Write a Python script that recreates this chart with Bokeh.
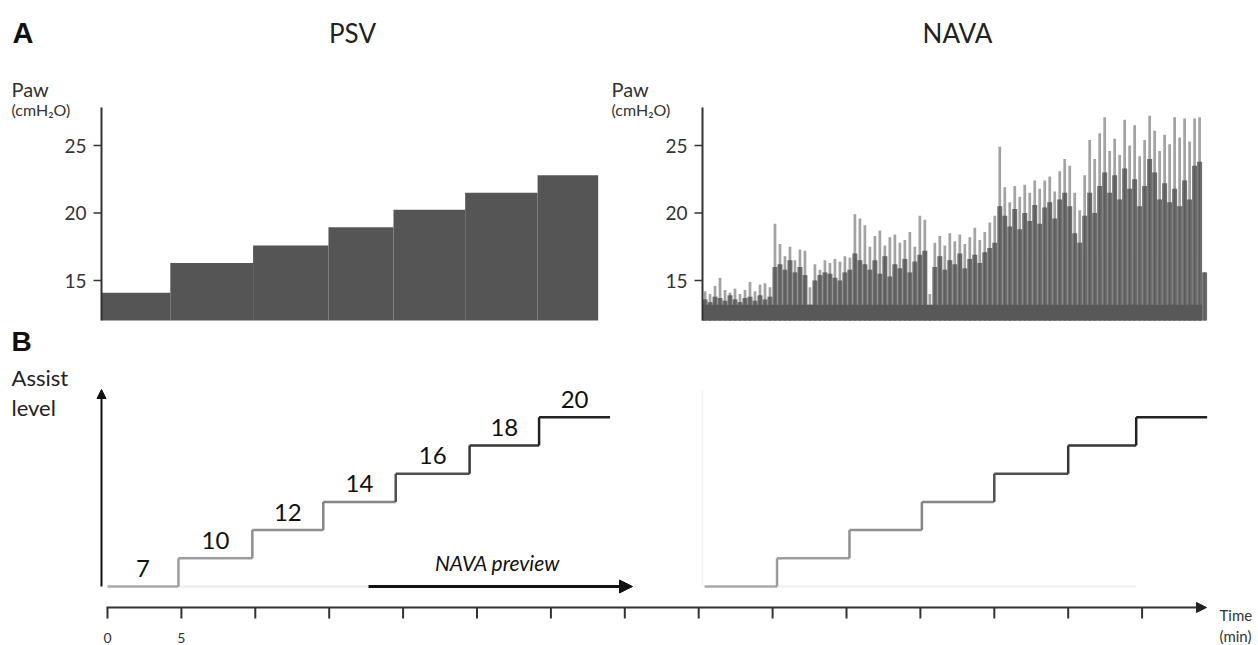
import numpy as np
from bokeh.plotting import figure
from bokeh.models import Range1d, Arrow, NormalHead, ColumnDataSource
from bokeh.core.properties import value
from bokeh.embed import file_html
from bokeh.resources import INLINE

# ---------------- data ----------------
paw_ticks = [15, 20, 25]
paw_tick_labels = ["15", "20", "25"]

# PSV airway pressure plateaus (cmH2O) between step edges (min)
psv_paw_edges = [-0.4, 4.25, 9.85, 14.95, 19.35, 24.2, 29.1, 33.2]
psv_paw = [14.1, 16.3, 17.6, 18.95, 20.25, 21.5, 22.8]

# NAVA airway pressure trace (cmH2O), sampled every nava_dt minutes from nava_t0
nava_t0 = 40.26
nava_dt = 0.338
nava_peak = [14.2, 14.0, 14.6, 15.2, 14.3, 14.1, 14.4, 14.0, 14.3, 14.9, 14.2, 14.7, 14.8, 14.5, 19.2,
             17.7, 16.8, 17.5, 16.5, 17.3, 17.2,
             14.5,
             16.2, 15.8, 16.5, 16.3, 16.6, 16.4, 16.8, 16.7,
             19.9, 19.6,
             19.1, 17.5, 18.3, 18.7, 17.6, 18.2, 18.4, 17.8, 18.0, 18.6, 17.5, 19.8, 19.5,
             14.0,
             17.8, 18.3, 17.6, 18.5, 17.9, 18.4, 17.7, 18.2, 18.9, 18.0, 18.6, 19.3, 19.8,
             24.9,
             21.9, 20.8, 22.0, 21.2, 22.1, 21.5, 22.4, 21.8, 22.4, 22.7, 21.6, 23.1, 24.0,
             23.5, 21.5, 20.2, 22.8, 25.4, 24.0, 25.9, 27.1, 24.6, 25.5, 24.3, 26.9, 25.0, 26.5,
             24.2, 25.4, 27.2, 26.1, 24.6, 25.8, 25.1, 27.1, 25.6, 27.0, 25.3, 27.0, 27.1,
             15.6]
nava_body = [13.6, 13.4, 13.8, 13.7, 13.5, 13.9, 13.6, 13.4, 13.7, 13.8, 13.5, 13.9, 13.6, 13.8, 16.0,
             16.2, 15.8, 16.5, 15.6, 16.0, 15.4,
             13.2,
             15.0, 15.4, 15.6, 15.5, 15.2, 15.0, 15.6, 15.8,
             17.0, 16.5,
             16.2, 15.8, 16.5, 15.5, 16.8, 15.3, 16.2, 15.9, 16.6, 15.6, 16.4, 16.9, 17.2,
             13.0,
             16.0, 16.8, 15.8, 16.5, 16.2, 17.0, 15.9, 16.6, 16.9, 16.3, 17.1, 17.4, 17.8,
             20.5,
             19.8, 19.0, 20.3, 18.8, 20.0, 19.4, 20.6, 19.2, 20.4, 20.8, 19.6, 21.0, 21.5,
             20.5, 18.5, 17.8, 19.8, 21.5, 20.0, 22.0, 23.0, 21.5, 22.8, 21.0, 23.3, 21.8, 22.5,
             20.5, 22.0, 24.0, 23.0, 21.0, 22.2, 20.8, 21.8, 20.5, 22.4, 21.0, 23.5, 23.8,
             15.6]
nava_floor = 13.2  # dark baseline band of the NAVA trace

# Assist levels (step index 0..6) with their PSV labels
assist_step = [0, 1, 2, 3, 4, 5, 6]
assist_labels = ["7", "10", "12", "14", "16", "18", "20"]
psv_step_edges = [0.0, 4.8, 9.8, 14.6, 19.5, 24.5, 29.2, 34.0]
nava_step_edges = [40.4, 45.3, 50.2, 55.1, 60.0, 65.0, 69.6, 74.4]
step_colors = ["#a8a8a8", "#9c9c9c", "#909090", "#858585", "#4f4f4f", "#363636", "#222222"]

time_ticks = [0, 5, 10, 15, 20, 25, 30, 35, 40, 45, 50, 55, 60, 65, 70]
time_tick_labels = ["0", "5"]

# ---------------- layout helpers (picture pixels -> data units) ----------------
def tx(X):
    return (X - 107) / 14.78

def ly(Y):
    return (586 - Y) / 28.2

def py(Y):
    return 15 + (280 - Y) / 13.5

FONT = value("Lato")
W, H = 1258, 645

p = figure(width=W, height=H, output_backend="svg", toolbar_location=None,
           x_axis_type=None, y_axis_type=None,
           x_range=Range1d(tx(0), tx(W)), y_range=Range1d(ly(H), ly(0)),
           min_border=0, outline_line_color=None, background_fill_color="white")
p.extra_y_ranges = {"paw": Range1d(py(H), py(0))}
p.xgrid.visible = False
p.ygrid.visible = False

paw_floor = py(320)
paw_top = py(107)

# ---------------- panel A ----------------
p.quad(left=psv_paw_edges[:-1], right=psv_paw_edges[1:], bottom=paw_floor, top=psv_paw,
       y_range_name="paw", fill_color="#555555", line_color=None)

n = len(nava_peak)
nx = [nava_t0 + nava_dt * (i + 0.5) for i in range(n)]
src = ColumnDataSource(dict(x=nx, peak=nava_peak, body=nava_body))
p.vbar(x="x", width=nava_dt * 0.55, top="peak", bottom=paw_floor, source=src,
       y_range_name="paw", fill_color="#a3a3a3", line_color=None)
p.vbar(x="x", width=nava_dt * 1.0, top="body", bottom=paw_floor, source=src,
       y_range_name="paw", fill_color="#6f6f6f", line_color=None)
p.vbar(x="x", width=nava_dt * 0.3, top="body", bottom=paw_floor, source=src,
       y_range_name="paw", fill_color="#5c5c5c", line_color=None)
p.quad(left=[nava_t0], right=[nava_t0 + nava_dt * (n - 1)], bottom=[paw_floor], top=[nava_floor],
       y_range_name="paw", fill_color="#585858", line_color=None)

for ax_t in (tx(101), tx(702)):
    p.segment(x0=[ax_t], y0=[paw_floor], x1=[ax_t], y1=[paw_top], y_range_name="paw",
              line_color="#333333", line_width=2)
    p.segment(x0=[ax_t - 8 / 14.78] * 3, y0=paw_ticks, x1=[ax_t] * 3, y1=paw_ticks,
              y_range_name="paw", line_color="#333333", line_width=1.5)
    p.text(x=[ax_t - 15 / 14.78] * 3, y=paw_ticks, text=paw_tick_labels, y_range_name="paw",
           text_font=FONT, text_font_size="19px", text_align="right", text_baseline="middle",
           text_color="#333333")

# headings
p.text(x=[tx(12)], y=[ly(32)], text=["A"], text_font=value("Liberation Sans"),
       text_font_style="bold", text_font_size="29px", text_align="left", text_baseline="middle",
       text_color="#111111")
p.text(x=[tx(352), tx(957)], y=[ly(32), ly(32)], text=["PSV", "NAVA"], text_font=FONT,
       text_font_size="26px", text_align="center", text_baseline="middle", text_color="#222222")
p.text(x=[tx(11), tx(611)], y=[ly(88), ly(88)], text=["Paw", "Paw"], text_font=FONT,
       text_font_size="20px", text_align="left", text_baseline="middle", text_color="#333333")
p.text(x=[tx(11), tx(611)], y=[ly(109), ly(109)], text=["(cmH\u2082O)", "(cmH\u2082O)"], text_font=FONT,
       text_font_size="16px", text_align="left", text_baseline="middle", text_color="#333333")

# ---------------- panel B ----------------
p.text(x=[tx(11)], y=[ly(341)], text=["B"], text_font=value("Liberation Sans"),
       text_font_style="bold", text_font_size="28px", text_align="left", text_baseline="middle",
       text_color="#111111")
p.text(x=[tx(11), tx(11)], y=[ly(377), ly(407)], text=["Assist", "level"], text_font=FONT,
       text_font_size="22px", text_align="left", text_baseline="middle", text_color="#222222")

# faint guide lines
p.segment(x0=[psv_step_edges[1]], y0=[0], x1=[tx(368)], y1=[0], line_color="#ececec", line_width=2)
p.segment(x0=[nava_step_edges[1]], y0=[0], x1=[nava_step_edges[-2]], y1=[0], line_color="#f0f0f0", line_width=2)
p.segment(x0=[tx(702)], y0=[0], x1=[tx(702)], y1=[ly(390)], line_color="#f2f2f2", line_width=1.5)

for edges in (psv_step_edges, nava_step_edges):
    p.segment(x0=edges[:-1], x1=edges[1:], y0=assist_step, y1=assist_step,
              line_color=step_colors, line_width=2.5)
    p.segment(x0=edges[1:-1], x1=edges[1:-1], y0=assist_step[:-1], y1=assist_step[1:],
              line_color=step_colors[1:], line_width=2.5)

mid = [(a + b) / 2 for a, b in zip(psv_step_edges[:-1], psv_step_edges[1:])]
p.text(x=mid, y=assist_step, text=assist_labels, y_offset=-18, text_font=FONT,
       text_font_size="24px", text_align="center", text_baseline="middle", text_color="#111111")

# assist level axis arrow
p.add_layout(Arrow(end=NormalHead(size=9, fill_color="#111111", line_color="#111111"),
                   x_start=tx(101), y_start=0, x_end=tx(101), y_end=ly(389),
                   line_color="#111111", line_width=2))

# NAVA preview arrow
p.add_layout(Arrow(end=NormalHead(size=13, fill_color="#111111", line_color="#111111"),
                   x_start=tx(368), y_start=0, x_end=tx(632), y_end=0,
                   line_color="#111111", line_width=3))
p.text(x=[tx(497)], y=[ly(562)], text=["NAVA preview"], text_font=FONT, text_font_style="italic",
       text_font_size="21px", text_align="center", text_baseline="middle", text_color="#111111")

# time axis
t_axis_y = ly(607)
p.add_layout(Arrow(end=NormalHead(size=10, fill_color="#222222", line_color="#222222"),
                   x_start=tx(106), y_start=t_axis_y, x_end=tx(1206), y_end=t_axis_y,
                   line_color="#333333", line_width=2))
p.segment(x0=time_ticks, x1=time_ticks, y0=[t_axis_y] * len(time_ticks),
          y1=[ly(618)] * len(time_ticks), line_color="#333333", line_width=2)
p.text(x=time_ticks[:2], y=[ly(632)] * 2, text=time_tick_labels, text_font=FONT,
       text_font_size="14px", text_align="center", text_baseline="top", text_color="#333333")
p.text(x=[tx(1219), tx(1219)], y=[ly(614), ly(635)], text=["Time", "(min)"], text_font=FONT,
       text_font_size="15px", text_align="left", text_baseline="middle", text_color="#333333")

open("out.html", "w").write(file_html(p, INLINE))
